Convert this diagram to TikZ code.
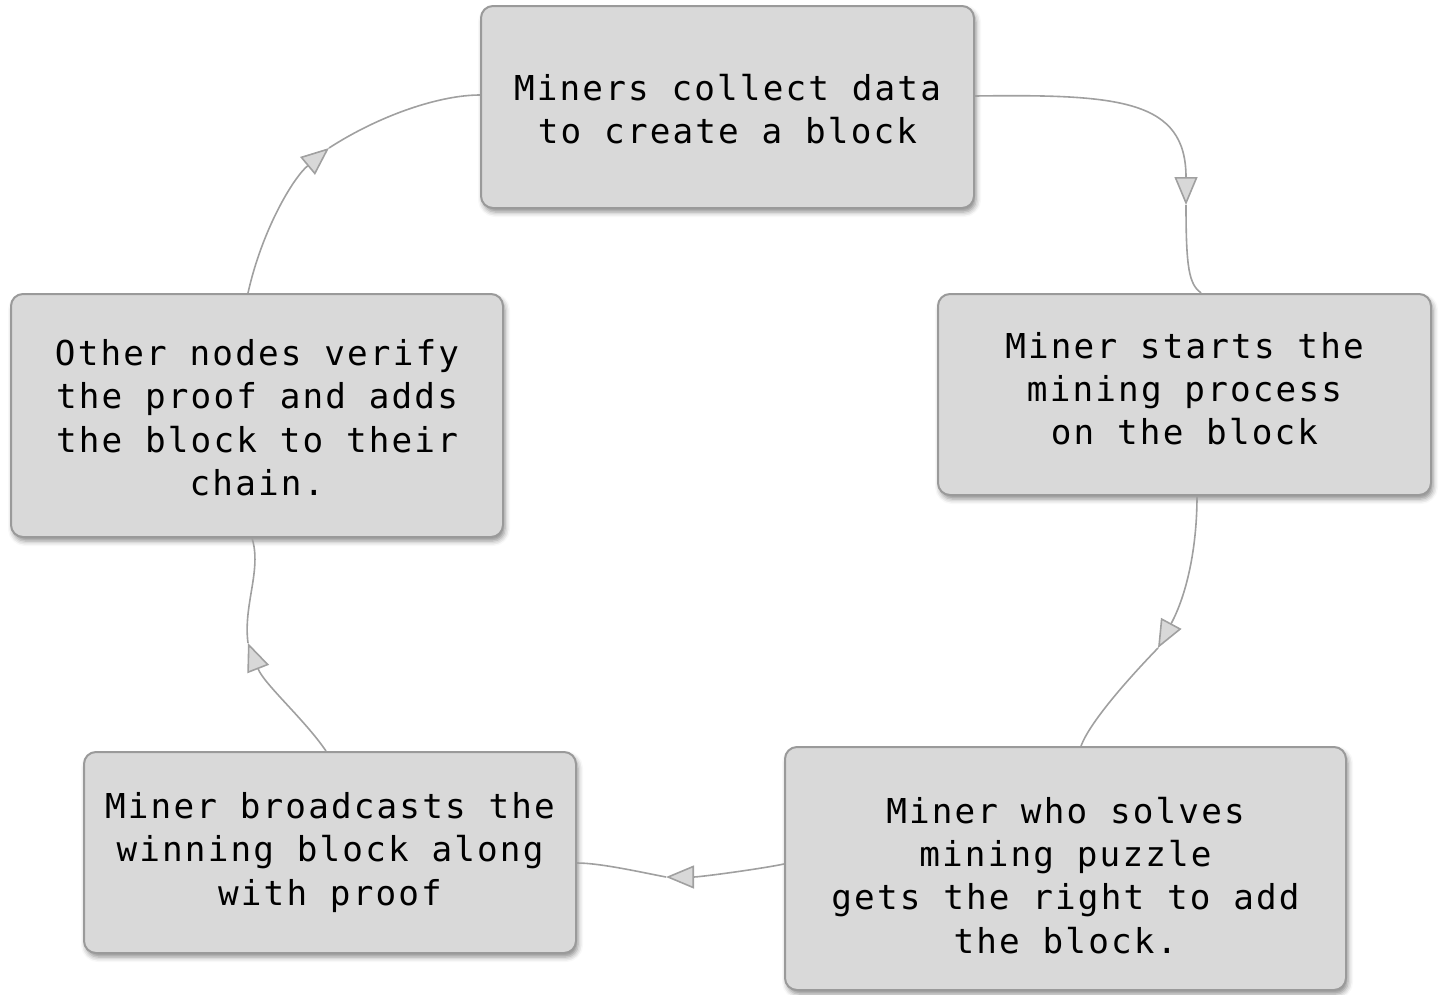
\documentclass[tikz,border=0pt]{standalone}
\usepackage{fontspec}
\newfontfamily\boxfont{DejaVu Sans Mono}[LetterSpace=6.3]
\usetikzlibrary{arrows.meta,shadows.blur}

\definecolor{boxfill}{HTML}{D9D9D9}
\definecolor{boxline}{HTML}{9A9A9A}
\definecolor{linkline}{HTML}{A0A0A0}
\definecolor{headfill}{HTML}{D8D8D8}

% invisible struts that nudge a text block inside its box
\newcommand{\topstrut}[1]{\rule{0pt}{#1}}
\newcommand{\bottomstrut}[1]{\rule[-#1]{0pt}{0pt}}

\tikzset{
  stage/.style={draw=boxline, line width=2pt, fill=boxfill, rounded corners=12pt,
    inner sep=0pt, align=center,
    font=\boxfont\fontsize{34.3}{43.3}\selectfont,
    blur shadow={shadow xshift=2pt, shadow yshift=-4pt, shadow blur radius=5pt, shadow opacity=45}},
  link/.style={draw=linkline, line width=1.6pt},
  head/.style={-{Triangle[length=28pt,width=23pt,fill=headfill,line join=miter]}}
}

\begin{document}
\begin{tikzpicture}[x=1pt, y=-1pt]
\useasboundingbox (0,0) rectangle (1441,994);

% the five stages of the mining cycle
\node[stage, minimum width=493pt, minimum height=202pt] (collect) at (727.5,107)
  {\topstrut{31pt}Miners collect data\\to create a block};
\node[stage, minimum width=493pt, minimum height=201pt] (mine) at (1184.5,394.5)
  {Miner starts the\\mining process\\on the block\bottomstrut{12pt}};
\node[stage, minimum width=561pt, minimum height=243pt] (solve) at (1065.5,868.5)
  {\topstrut{40pt}Miner who solves\\mining puzzle\\gets the right to add\\the block.};
\node[stage, minimum width=492pt, minimum height=201pt] (broadcast) at (330,852.5)
  {Miner broadcasts the\\winning block along\\with proof};
\node[stage, minimum width=492pt, minimum height=243pt] (verify) at (257,415.5)
  {\topstrut{30.5pt}Other nodes verify\\the proof and adds\\the block to their\\chain.};

% arrow tips placed midway along each link
\coordinate (tipA) at (1186,205);
\coordinate (tipB) at (1158,648);
\coordinate (tipC) at (666,877);
\coordinate (tipD) at (248,643);
\coordinate (tipE) at (329,148);

% collect -> mine
\draw[link, head] ([yshift=11pt]collect.east) .. controls (1120,94) and (1186,100) .. (tipA);
\draw[link] (tipA) .. controls (1186,268) and (1189,284) .. ([xshift=16.5pt]mine.north);

% mine -> solve
\draw[link, head] ([xshift=12.5pt]mine.south) .. controls (1197,550) and (1186,596) .. (tipB);
\draw[link] (tipB) .. controls (1128,679) and (1090,722) .. ([xshift=15.5pt]solve.north);

% solve -> broadcast
\draw[link, head] ([yshift=4.5pt]solve.west) .. controls (760,869) and (700,877) .. (tipC);
\draw[link] (tipC) .. controls (640,872) and (600,863) .. ([yshift=-10.5pt]broadcast.east);

% broadcast -> verify
\draw[link, head] ([xshift=-4pt]broadcast.north) .. controls (305,720) and (264,684) .. (tipD);
\draw[link] (tipD) .. controls (243,605) and (262,570) .. ([xshift=-5pt]verify.south);

% verify -> collect
\draw[link, head] ([xshift=-9pt]verify.north) .. controls (262,230) and (293,178) .. (tipE);
\draw[link] (tipE) .. controls (380,115) and (440,95) .. ([yshift=12pt]collect.west);
\end{tikzpicture}
\end{document}
